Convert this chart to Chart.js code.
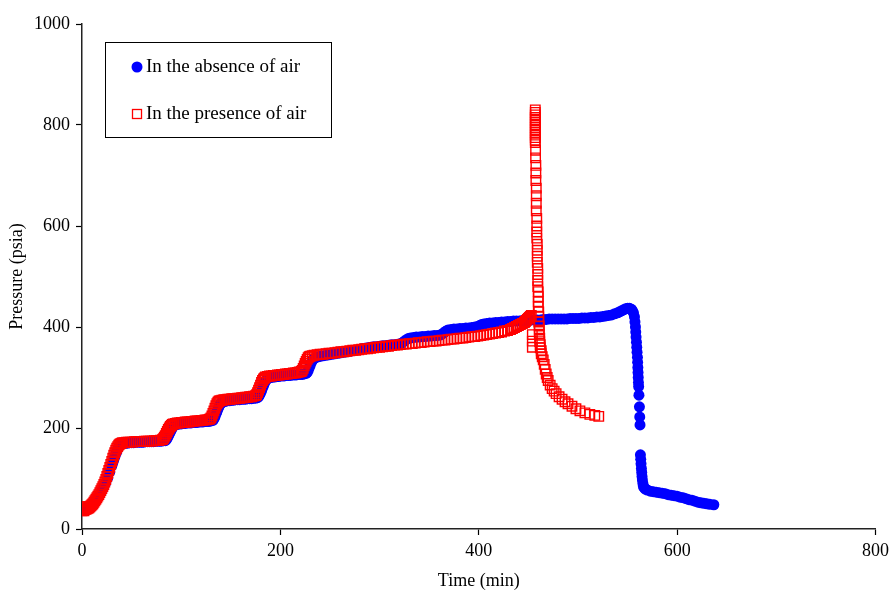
<!DOCTYPE html>
<html>
<head>
<meta charset="utf-8">
<script src="https://cdn.jsdelivr.net/npm/chart.js@4.4.1/dist/chart.umd.min.js"></script>
<style>
  html, body { margin: 0; padding: 0; background: #fff; }
  #wrap { width: 894px; height: 594px; }
</style>
</head>
<body>
<div id="wrap"><canvas id="pressureChart" width="894" height="594"></canvas></div>
<script>
// In the absence of air (blue circles)
const timeAbsent = [
  0,2,4,6,8,10,12,14,16,18,20,22,24,26,28,30,31,32,33,34,35,36,37,38,39,40,
  42,44,46,48,50,52,54,56,58,60,62,64,66,68,70,72,74,76,78,80,82,84,
  85,86,87,88,89,90,91,92,93,94,96,98,100,102,104,106,108,110,112,114,116,118,120,122,124,126,128,130,
  132,133,134,135,136,137,138,139,140,141,143,145,147,149,151,153,155,157,159,161,163,165,167,169,171,173,175,
  177,178,179,180,181,182,183,184,185,186,187,188,190,192,194,196,198,200,202,204,206,208,210,212,214,216,218,220,222,224,
  226,227,228,229,230,231,232,233,234,236,238,240,243,246,249,252,255,258,261,264,267,270,273,276,279,282,285,288,291,294,297,
  300,303,306,309,312,315,318,321,323,325,327,329,331,334,337,340,343,346,349,352,355,358,361,363,365,367,369,372,375,378,
  381,384,387,390,393,396,399,401,403,405,408,411,414,417,420,423,426,429,432,435,438,441,444,447,450,453,456,459,462,465,
  468,471,474,477,480,483,486,489,492,495,498,501,504,507,510,513,516,519,522,525,528,531,534,537,540,542,544,546,548,550,
  552,554,555,556,557,557.5,558,558.3,558.6,559,559.3,559.6,560,560.2,560.4,560.6,560.8,561,561.2,561.5,562,562.3,562.6,
  563,563.3,563.6,564,564.3,564.6,565,565.5,566,567,568,570,573,576,579,582,585,588,591,594,597,600,603,606,609,612,615,
  618,621,624,627,630,633,637
];
const pressureAbsent = [
  38,38,39,40,43,47,51,56,62,68,75,83,92,102,113,125,131,137,143,148,153,158,162,165,167,168,
  169,170,170,171,171,171,172,172,172,172,172,173,173,173,173,173,174,174,174,174,175,175,
  177,180,184,188,192,196,200,203,205,206,207,208,208,209,209,210,210,210,211,211,211,212,212,212,213,213,213,214,
  215,218,222,227,232,237,242,246,249,251,252,253,254,254,255,255,256,256,256,257,257,257,258,258,258,259,259,
  260,262,265,269,274,279,284,289,293,296,298,299,300,301,301,302,302,303,303,303,304,304,304,305,305,305,306,306,306,307,
  308,310,314,319,324,329,333,336,338,340,341,342,343,344,345,346,347,348,349,350,351,352,353,354,355,357,358,359,360,361,361,
  362,363,363,364,365,365,366,367,369,372,375,377,378,379,380,380,381,381,382,382,383,383,384,386,389,392,394,395,396,396,
  397,397,398,398,399,400,401,403,405,406,407,408,408,409,409,410,410,411,411,412,412,412,413,413,413,414,414,414,414,415,
  415,416,416,416,416,416,416,416,417,417,417,417,418,418,418,419,419,420,420,421,422,423,424,426,428,430,432,434,436,437,
  437,435,432,428,420,410,400,390,380,370,360,350,340,330,320,310,300,290,282,265,242,222,206,
  147,138,129,120,112,104,97,90,84,81,79,77,75,74,73,72,71,70,68,67,66,65,63,62,60,58,57,
  55,53,52,51,50,49,48
];

// In the presence of air (red open squares)
const timePresent = [
  0,0,1,2,
  0,1,2,3,4,5,6,7,8,9,10,11,12,13,14,15,16,17,18,19,20,21,22,23,24,25,26,27,28,29,30,31,32,33,34,35,36,37,38,39,40,
  41,43,45,47,49,51,53,55,57,59,61,63,65,67,69,71,73,75,77,79,81,
  82,83,84,85,86,87,88,89,90,91,92,
  94,96,98,100,102,104,106,108,110,112,114,116,118,120,122,124,126,128,
  129,130,131,132,133,134,135,136,137,138,139,141,
  143,145,147,149,151,153,155,157,159,161,163,165,167,169,171,173,175,
  176,177,178,179,180,181,182,183,184,185,187,
  189,191,193,195,197,199,201,203,205,207,209,211,213,215,217,219,221,
  222,223,224,225,226,227,228,229,230,232,
  234,237,240,243,246,249,252,255,258,261,264,267,270,273,276,279,282,285,288,291,294,297,300,303,306,309,312,315,318,321,
  324,327,330,333,336,339,342,345,348,351,354,357,360,363,366,369,372,375,378,381,384,387,390,393,396,399,402,405,408,411,
  414,417,420,423,426,429,432,434,436,438,440,442,444,446,447,448,449,450,451,452,453,
  454,454,454,
  457,457,457,457,457,457,457,457,457,457,457,457,457,457,
  457.3,457.3,457.6,457.6,457.6,458,458,458,458,458.5,458.5,458.5,458.5,459,459,459,459,459.5,459.5,459.5,459.5,
  460,460,460,460,460.5,460.5,460.5,461,461,461,461.5,461.5,462,462,463,463,464,465,466,467,468,469,470,
  472,474,476,478,481,484,487,490,494,498,502,507,512,517,521
];
const pressurePresent = [
  36,44,44,36,
  38,38,38,39,39,40,41,42,44,46,48,50,53,56,59,62,65,68,72,76,80,84,88,93,98,104,110,116,122,128,134,140,146,151,156,160,163,166,168,169,170,
  171,171,172,172,172,172,173,173,173,173,173,174,174,174,174,174,175,175,175,176,177,
  179,182,185,189,193,197,200,203,205,207,208,
  209,210,210,211,211,212,212,212,213,213,214,214,214,215,215,216,216,217,
  218,220,224,229,234,239,244,248,251,253,254,255,
  256,256,257,257,258,258,258,259,259,260,260,261,261,262,262,263,264,
  266,270,275,280,285,290,294,297,299,301,302,
  303,303,304,304,305,305,306,306,307,307,308,308,309,309,310,311,312,
  314,318,323,328,332,336,339,341,342,343,
  344,345,346,346,347,348,348,349,350,351,351,352,353,354,354,355,356,357,357,358,359,360,360,361,362,362,363,364,364,365,
  366,366,367,367,368,369,369,370,371,371,372,372,373,374,374,375,376,376,377,378,378,379,380,381,381,382,383,384,385,386,
  387,388,389,390,392,393,395,397,399,401,403,405,407,409,411,413,415,417,419,421,423,
  385,372,360,
  830,825,820,815,810,805,800,795,790,785,780,775,770,765,
  750,735,720,705,690,675,660,645,630,615,600,588,576,564,552,540,528,516,504,492,480,
  470,460,450,440,430,420,410,402,394,386,378,371,365,359,353,347,341,335,326,316,307,300,294,
  285,278,273,268,262,257,252,248,243,238,234,230,227,225,223
];

const serif = '"Liberation Serif", "Times New Roman", serif';

const legendBox = {
  id: 'legendBox',
  afterDraw(chart) {
    const ctx = chart.ctx;
    ctx.save();
    ctx.strokeStyle = '#000';
    ctx.lineWidth = 1;
    ctx.strokeRect(105.5, 42.5, 226, 95);
    ctx.fillStyle = '#0000ff';
    ctx.beginPath();
    ctx.arc(137, 67, 5.5, 0, Math.PI * 2);
    ctx.fill();
    ctx.strokeStyle = '#ff0000';
    ctx.lineWidth = 1.3;
    ctx.strokeRect(132.5, 109.5, 9, 9);
    ctx.fillStyle = '#000';
    ctx.font = '19px ' + serif;
    ctx.textBaseline = 'middle';
    ctx.fillText('In the absence of air', 146, 67);
    ctx.fillText('In the presence of air', 146, 114);
    ctx.restore();
  }
};

const plainTick = v => String(v);

const ctx = document.getElementById('pressureChart').getContext('2d');
new Chart(ctx, {
  type: 'scatter',
  data: {
    datasets: [
      {
        label: 'In the absence of air',
        data: timeAbsent.map((t, i) => ({ x: t, y: pressureAbsent[i] })),
        pointStyle: 'circle',
        pointRadius: 5.5,
        backgroundColor: '#0000ff',
        borderColor: '#0000ff',
        borderWidth: 0,
        order: 1
      },
      {
        label: 'In the presence of air',
        data: timePresent.map((t, i) => ({ x: t, y: pressurePresent[i] })),
        pointStyle: 'rect',
        pointRadius: 6.7,
        backgroundColor: 'rgba(0,0,0,0)',
        borderColor: '#ff0000',
        borderWidth: 1.4,
        order: 0
      }
    ]
  },
  options: {
    responsive: false,
    animation: false,
    layout: { padding: { top: 24, right: 17, bottom: 0, left: 0 } },
    plugins: {
      legend: { display: false },
      tooltip: { enabled: false }
    },
    scales: {
      x: {
        type: 'linear',
        min: 0,
        max: 800,
        afterFit: s => { s.height = 65; },
        ticks: { stepSize: 200, color: '#000', font: { family: serif, size: 18 }, padding: 5, callback: plainTick },
        grid: { drawOnChartArea: false, tickLength: 6, tickColor: '#000', tickWidth: 1.2 },
        border: { color: '#222', width: 1.5 },
        title: { display: true, text: 'Time (min)', color: '#000', font: { family: serif, size: 18 }, padding: { top: 0, bottom: 2 } }
      },
      y: {
        type: 'linear',
        min: 0,
        max: 1000,
        afterFit: s => { s.width = 82; },
        ticks: { stepSize: 200, color: '#000', font: { family: serif, size: 18 }, padding: 6, callback: plainTick },
        grid: { drawOnChartArea: false, tickLength: 6, tickColor: '#000', tickWidth: 1.2 },
        border: { color: '#222', width: 1.5 },
        title: { display: true, text: 'Pressure (psia)', color: '#000', font: { family: serif, size: 18 }, padding: { top: 6, bottom: 0 } }
      }
    }
  },
  plugins: [legendBox]
});
</script>
</body>
</html>
